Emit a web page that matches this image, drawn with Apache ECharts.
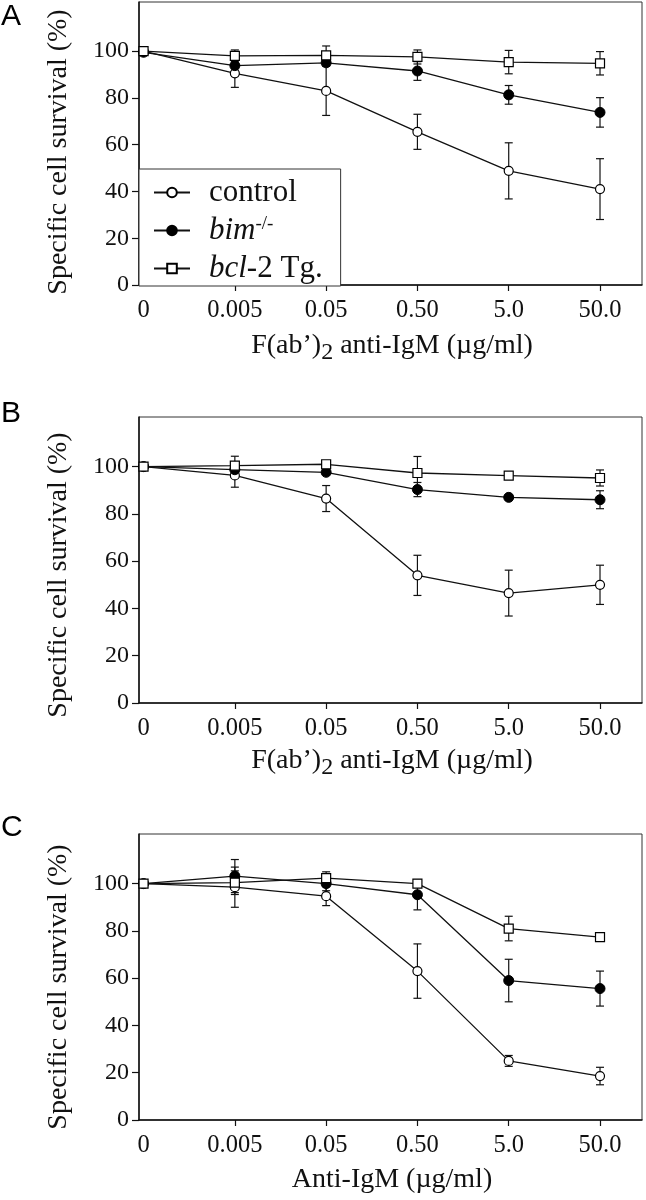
<!DOCTYPE html>
<html><head><meta charset="utf-8">
<script src="https://cdn.jsdelivr.net/npm/echarts@6/dist/echarts.min.js"></script>
<style>html,body{margin:0;padding:0;background:#fff;}#c{width:646px;height:1200px;}</style>
</head><body><div id="c"></div>
<script>
var xLabels = ['0', '0.005', '0.05', '0.50', '5.0', '50.0'];
var yTicks = [0, 20, 40, 60, 80, 100];

var controlA = [100, 90.5, 83, 65.5, 48.8, 41];
var controlAErr = [0, 6, 10.5, 7.5, 12, 13];
var bimA = [99.5, 93.8, 95, 91.5, 81.3, 73.8];
var bimAErr = [0, 0, 0, 4, 4, 6.3];
var bclA = [100, 98, 98.2, 97.5, 95.3, 94.8];
var bclAErr = [0, 2.5, 4, 3, 5, 5];

var controlB = [100, 96.3, 86.5, 54, 46.5, 50];
var controlBErr = [0, 5, 5.5, 8.5, 9.7, 8.3];
var bimB = [100, 98.7, 97.6, 90.3, 87, 86];
var bimBErr = [0, 0, 1, 3, 1, 3.8];
var bclB = [100, 100.4, 101, 97.3, 96.2, 95.2];
var bclBErr = [0, 4, 1, 7, 1, 3.4];

var controlC = [100, 98.5, 94.7, 63, 25, 18.6];
var controlCErr = [0, 8.5, 4, 11.5, 2.3, 3.7];
var bimC = [100, 103.2, 100, 95.3, 59, 55.6];
var bimCErr = [0, 7, 3, 6.4, 9, 7.4];
var bclC = [100, 100.4, 102.3, 100, 81, 77.4];
var bclCErr = [0, 5, 2.7, 0, 5.2, 0];

var SERIF = '"Liberation Serif", "Times New Roman", serif';
var SANS = '"Liberation Sans", Arial, sans-serif';

var chart = echarts.init(document.getElementById('c'), null, {renderer: 'canvas'});

var grids = [
  {left: 139, right: 4, top: 2, height: 283},
  {left: 139, right: 4, top: 417, height: 286},
  {left: 139, right: 4, top: 834, height: 286}
].map(function (g) { return Object.assign({show: true, borderColor: '#333', borderWidth: 1, backgroundColor: '#fff'}, g); });

function xAxis(i) {
  return {
    type: 'value', gridIndex: i, min: -0.05, max: 5.46,
    axisLine: {show: true, onZero: false, lineStyle: {color: '#111', width: 1.5}},
    axisTick: {show: true, inside: false, length: 6, lineStyle: {color: '#111', width: 1.2}, customValues: [1, 2, 3, 4, 5]},
    axisLabel: {customValues: [0, 1, 2, 3, 4, 5], formatter: function (v) { return xLabels[Math.round(v)]; },
      fontFamily: SERIF, fontSize: 24.5, color: '#111', margin: 13},
    splitLine: {show: false}
  };
}
function yAxis(i) {
  return {
    type: 'value', gridIndex: i, min: 0, max: 121,
    axisLine: {show: true, onZero: false, lineStyle: {color: '#111', width: 1.5}},
    axisTick: {show: true, inside: false, length: 7, lineStyle: {color: '#111', width: 1.2}, customValues: yTicks},
    axisLabel: {customValues: yTicks, fontFamily: SERIF, fontSize: 24, color: '#111', margin: 10},
    splitLine: {show: false}
  };
}

var symbols = {
  control: {symbol: 'circle', symbolSize: 9, itemStyle: {color: '#fff', borderColor: '#000', borderWidth: 1.2}},
  bim: {symbol: 'circle', symbolSize: 10, itemStyle: {color: '#000', borderColor: '#000', borderWidth: 1}},
  bcl: {symbol: 'rect', symbolSize: 9, itemStyle: {color: '#fff', borderColor: '#000', borderWidth: 1.2}}
};

function lineSeries(name, vals, gi) {
  var s = symbols[name];
  return {
    type: 'line', name: name, xAxisIndex: gi, yAxisIndex: gi, z: 5,
    data: vals.map(function (v, i) { return [i, v]; }),
    symbol: s.symbol, symbolSize: s.symbolSize, itemStyle: s.itemStyle,
    lineStyle: {color: '#111', width: 1.3}, showAllSymbols: true, animation: false
  };
}
function errSeries(vals, errs, gi) {
  var data = [];
  vals.forEach(function (v, i) { if (errs[i] > 0) data.push([i, v - errs[i], v + errs[i]]); });
  return {
    type: 'custom', xAxisIndex: gi, yAxisIndex: gi, z: 3, silent: true, animation: false,
    data: data,
    renderItem: function (params, api) {
      var lo = api.coord([api.value(0), api.value(1)]);
      var hi = api.coord([api.value(0), api.value(2)]);
      var w = 4;
      var st = {stroke: '#111', lineWidth: 1.2};
      return {type: 'group', children: [
        {type: 'line', shape: {x1: lo[0], y1: lo[1], x2: hi[0], y2: hi[1]}, style: st},
        {type: 'line', shape: {x1: lo[0] - w, y1: lo[1], x2: lo[0] + w, y2: lo[1]}, style: st},
        {type: 'line', shape: {x1: hi[0] - w, y1: hi[1], x2: hi[0] + w, y2: hi[1]}, style: st}
      ]};
    }
  };
}

var panels = [
  [controlA, controlAErr, bimA, bimAErr, bclA, bclAErr],
  [controlB, controlBErr, bimB, bimBErr, bclB, bclBErr],
  [controlC, controlCErr, bimC, bimCErr, bclC, bclCErr]
];
var series = [];
panels.forEach(function (p, gi) {
  series.push(errSeries(p[0], p[1], gi));
  series.push(errSeries(p[2], p[3], gi));
  series.push(errSeries(p[4], p[5], gi));
  series.push(lineSeries('control', p[0], gi));
  series.push(lineSeries('bim', p[2], gi));
  series.push(lineSeries('bcl', p[4], gi));
});

var richX = {
  b: {fontFamily: SERIF, fontSize: 28, color: '#111', lineHeight: 32},
  s: {fontFamily: SERIF, fontSize: 24, color: '#111', lineHeight: 32, padding: [13, 0, 0, 0]}
};
function letter(t, top) {
  return {type: 'text', left: 1, top: top, style: {text: t, font: 'normal 30px ' + SANS, fill: '#000'}};
}
function yTitle(cy) {
  return {type: 'text', x: 59, y: cy, rotation: Math.PI / 2,
    style: {text: 'Specific cell survival (%)', font: 'normal 28px ' + SERIF, fill: '#111', textAlign: 'center', textVerticalAlign: 'middle'}};
}
function xTitle(txt, cy) {
  return {type: 'text', x: 392, y: cy,
    style: {text: txt, rich: richX, textAlign: 'center', textVerticalAlign: 'middle', fill: '#111', font: 'normal 28px ' + SERIF}};
}

chart.setOption({
  animation: false,
  grid: grids,
  xAxis: [xAxis(0), xAxis(1), xAxis(2)],
  yAxis: [yAxis(0), yAxis(1), yAxis(2)],
  legend: {
    data: ['control', 'bim', 'bcl'],
    orient: 'vertical', left: 139, top: 169,
    backgroundColor: '#fff', borderColor: '#333', borderWidth: 1,
    padding: [8, 18, 2, 14], itemGap: 7, itemWidth: 36, itemHeight: 12,
    selectedMode: false,
    textStyle: {fontFamily: SERIF, fontSize: 31, color: '#111', padding: [0, 0, 0, 14],
      rich: {
        n: {fontFamily: SERIF, fontSize: 31, color: '#111', lineHeight: 30},
        i: {fontFamily: SERIF, fontSize: 31, fontStyle: 'italic', color: '#111', lineHeight: 30},
        sup: {fontFamily: SERIF, fontSize: 19, color: '#111', lineHeight: 30, padding: [0, 0, 12, 0]}
      }},
    formatter: function (name) {
      if (name === 'control') return '{n|control}';
      if (name === 'bim') return '{i|bim}{sup|-/-}';
      return '{i|bcl}{n|-2 Tg.}';
    }
  },
  graphic: [
    letter('A', 2), letter('B', 399), letter('C', 813),
    yTitle(152), yTitle(575), yTitle(987),
    xTitle('{b|F(ab\u2019)}{s|2}{b| anti-IgM (\u00b5g/ml)}', 346),
    xTitle('{b|F(ab\u2019)}{s|2}{b| anti-IgM (\u00b5g/ml)}', 761),
    xTitle('{b|Anti-IgM (\u00b5g/ml)}', 1180)
  ],
  series: series
});
</script></body></html>
